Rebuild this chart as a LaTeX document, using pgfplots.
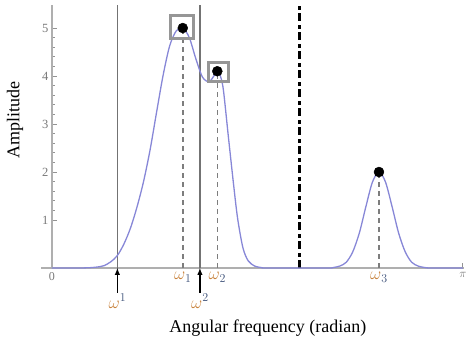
\documentclass[border=0pt]{standalone}
\usepackage{fontspec}
\setmainfont{Liberation Serif}
\usepackage{pgfplots}
\pgfplotsset{compat=1.18}
\definecolor{axgray}{RGB}{175,175,175}
\definecolor{tickgray}{RGB}{120,120,120}
\definecolor{vline}{RGB}{115,115,115}
\definecolor{dashgray}{RGB}{125,125,125}
\definecolor{curvecol}{RGB}{135,135,215}
\definecolor{boxgray}{RGB}{150,150,150}
\definecolor{omegacol}{RGB}{200,130,60}
\definecolor{numcol}{RGB}{60,80,120}
\newcommand{\om}[1]{\textcolor{omegacol}{\omega}_{\textcolor{numcol}{#1}}}
\newcommand{\omu}[1]{\textcolor{omegacol}{\omega}^{\textcolor{numcol}{#1}}}
\begin{document}
\begin{tikzpicture}
\begin{axis}[
  at={(0,0)}, anchor=south west,
  scale only axis, width=422.5pt, height=263pt,
  xmin=-0.08, xmax=3.15, ymin=0, ymax=5.48,
  axis lines=middle,
  axis line style={-, draw=axgray, line width=1.5pt},
  hide obscured x ticks=false, hide obscured y ticks=false,
  xtick={0,1,1.264,2.5,3.14159},
  xticklabels={{\fontsize{12}{12}\selectfont\color{tickgray}0},
               {\fontsize{18}{18}\selectfont$\om{1}$},
               {\fontsize{18}{18}\selectfont$\om{2}$},
               {\fontsize{18}{18}\selectfont$\om{3}$},
               {\fontsize{12}{12}\selectfont\color{tickgray}$\pi$}},
  ytick={1,2,3,4,5},
  yticklabels={1,2,3,4,5},
  minor y tick num=4,
  yticklabel style={font=\fontsize{12.5}{12.5}\selectfont, text=tickgray},
  xticklabel style={anchor=north, yshift=-0.5pt},
  tick align=inside,
  major tick length=5pt, minor tick length=3pt,
  every tick/.style={draw=tickgray!80, line width=1pt},
  clip=false,
]
% solid vertical lines (omega^1, omega^2)
\addplot[vline, line width=1.6pt] coordinates {(0.5,0) (0.5,5.48)};
\addplot[vline, line width=1.6pt] coordinates {(1.131,0) (1.131,5.48)};
% dash-dot black line
\addplot[black, line width=3pt, dash pattern=on 8.3pt off 2.7pt on 4pt off 4pt] coordinates {(1.896,0) (1.896,5.48)};
% dashed drop lines
\addplot[dashgray, line width=1.6pt, dash pattern=on 5pt off 4pt] coordinates {(1.0,0) (1.0,5.0)};
\addplot[dashgray, line width=1.6pt, dash pattern=on 5pt off 4pt] coordinates {(1.264,0) (1.264,4.1)};
\addplot[dashgray, line width=1.6pt, dash pattern=on 5pt off 4pt] coordinates {(2.5,0) (2.5,2.0)};
% spectrum curve
\addplot[curvecol, line width=1.3pt, smooth, tension=0.5] coordinates {
(0,0) (0.20,0) (0.28,0.005) (0.33,0.015) (0.37,0.03) (0.40,0.05) (0.45,0.13)
(0.50,0.26) (0.55,0.50) (0.60,0.83) (0.65,1.27) (0.70,1.80) (0.75,2.46)
(0.80,3.25) (0.85,4.02) (0.90,4.63) (0.95,4.94) (1.00,5.00) (1.05,4.80)
(1.10,4.36) (1.15,3.98) (1.20,3.88) (1.235,3.99) (1.264,4.10) (1.285,4.02)
(1.31,3.72) (1.35,2.70) (1.39,1.70) (1.42,1.02) (1.46,0.42) (1.50,0.15)
(1.55,0.04) (1.60,0.01) (1.65,0) (2.10,0) (2.15,0.01) (2.20,0.04) (2.25,0.12)
(2.30,0.34) (2.35,0.73) (2.40,1.28) (2.45,1.79) (2.50,2.00) (2.55,1.79)
(2.60,1.28) (2.65,0.73) (2.70,0.34) (2.75,0.12) (2.80,0.04) (2.85,0.01)
(2.90,0) (3.1416,0)
};
% boxes around peaks
\addplot[only marks, mark=square, mark size=11.8pt, mark options={draw=boxgray, line width=3pt}] coordinates {(0.995,5.02)};
\addplot[only marks, mark=square, mark size=9.8pt, mark options={draw=boxgray, line width=3pt}] coordinates {(1.275,4.08)};
% peak dots
\addplot[only marks, mark=*, mark size=5pt, black] coordinates {(1.0,5.0) (1.264,4.1) (2.5,2.0)};
% arrows for omega^1 and omega^2
\draw[-latex, black, line width=1.4pt] (axis cs:0.5,-0.52) -- (axis cs:0.5,0);
\draw[-latex, black, line width=1.4pt] (axis cs:1.131,-0.52) -- (axis cs:1.131,0);
\node[anchor=north, inner sep=1pt, font=\fontsize{18}{18}\selectfont] at (axis cs:0.5,-0.52) {$\omu{1}$};
\node[anchor=north, inner sep=1pt, font=\fontsize{18}{18}\selectfont] at (axis cs:1.131,-0.52) {$\omu{2}$};
% axis titles
\node[font=\fontsize{18}{18}\selectfont] at (axis cs:1.651,-1.25) {Angular frequency (radian)};
\node[rotate=90, font=\fontsize{18}{18}\selectfont] at (axis cs:-0.283,3.08) {Amplitude};
\end{axis}
\pgfresetboundingbox
\useasboundingbox (-41.5pt,-71pt) rectangle (424.5pt,268pt);
\end{tikzpicture}
\end{document}
